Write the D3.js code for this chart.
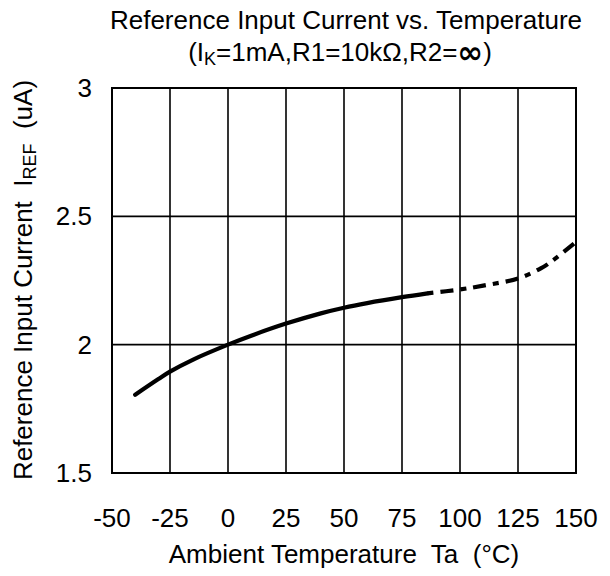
<!DOCTYPE html>
<html><head><meta charset="utf-8">
<script src="https://cdn.jsdelivr.net/npm/d3@7"></script>
<style>body{margin:0;background:#fff}text{font-family:"Liberation Sans",Arial,sans-serif;fill:#000}</style>
</head><body><svg id="c" width="610" height="576"></svg>
<script>
const xTicks = [-50,-25,0,25,50,75,100,125,150];
const yTicks = [1.5,2,2.5,3];
const solidT = [-40,-30,-25,-15,0,10,25,40,50,60,75,86];
const solidI = [1.805,1.866,1.895,1.942,2.0,2.035,2.082,2.122,2.144,2.162,2.185,2.200];
const dashT = [86,100,110,125,135,140,150];
const dashI = [2.200,2.215,2.230,2.258,2.298,2.328,2.40];

const svg = d3.select("#c");
const L=112,R=576,T=88,B=473;
const x = d3.scaleLinear().domain([-50,150]).range([L,R]);
const y = d3.scaleLinear().domain([1.5,3]).range([B,T]);

const g = svg.append("g");
g.selectAll(".vx").data(xTicks).join("line")
 .attr("x1",d=>x(d)).attr("x2",d=>x(d)).attr("y1",T).attr("y2",B)
 .attr("stroke","#000").attr("stroke-width",1.6);
g.selectAll(".hy").data(yTicks).join("line")
 .attr("x1",L).attr("x2",R).attr("y1",d=>y(d)).attr("y2",d=>y(d))
 .attr("stroke","#000").attr("stroke-width",1.6);
g.append("rect").attr("x",L).attr("y",T).attr("width",R-L).attr("height",B-T)
 .attr("fill","none").attr("stroke","#000").attr("stroke-width",2);

const line = d3.line().x(d=>x(d[0])).y(d=>y(d[1])).curve(d3.curveCatmullRom);
svg.append("path").attr("d",line(solidT.map((t,i)=>[t,solidI[i]])))
 .attr("fill","none").attr("stroke","#000").attr("stroke-width",4.2).attr("stroke-linecap","round");
svg.append("path").attr("d",line(dashT.map((t,i)=>[t,dashI[i]])))
 .attr("fill","none").attr("stroke","#000").attr("stroke-width",4.2)
 .attr("stroke-dasharray","6,7,13,7");

svg.selectAll(".xt").data(xTicks).join("text")
 .attr("x",d=>x(d)).attr("y",527).attr("text-anchor","middle")
 .attr("font-size",26).text(d=>d);
svg.selectAll(".yt").data(yTicks).join("text")
 .attr("x",92).attr("y",d=>y(d)+9).attr("text-anchor","end")
 .attr("font-size",26).text(d=>d);

svg.append("text").attr("x",344).attr("y",563).attr("text-anchor","middle")
 .attr("font-size",26).attr("xml:space","preserve").text("Ambient Temperature  Ta  (°C)");

svg.append("text").attr("x",346).attr("y",29).attr("text-anchor","middle")
 .attr("font-size",26).text("Reference Input Current vs. Temperature");
const t2 = svg.append("text").attr("x",340).attr("y",61).attr("text-anchor","middle").attr("font-size",26);
t2.append("tspan").text("(I");
t2.append("tspan").attr("font-size",18).attr("dy",4).text("K");
t2.append("tspan").attr("dy",-4).text("=1mA,R1=10kΩ,R2=");
t2.append("tspan").attr("font-weight","bold").attr("font-family","DejaVu Sans").attr("font-size",31).attr("dy",2).text("∞");
t2.append("tspan").attr("dy",-2).text(")");

const yl = svg.append("text").attr("transform","translate(32,280) rotate(-90)")
 .attr("text-anchor","middle").attr("font-size",26).attr("xml:space","preserve");
yl.append("tspan").text("Reference Input Current  I");
yl.append("tspan").attr("font-size",18).attr("dy",4).text("REF");
yl.append("tspan").attr("dy",-4).text("  (uA)");
</script></body></html>
